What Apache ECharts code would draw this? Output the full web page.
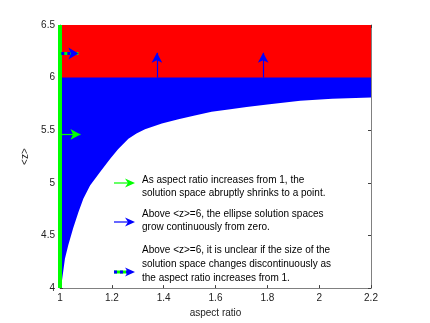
<!DOCTYPE html>
<html>
<head>
<meta charset="utf-8">
<script src="https://cdn.jsdelivr.net/npm/echarts@6/dist/echarts.min.js"></script>
<style>
  html, body { margin: 0; padding: 0; background: #fff; }
  #chart { width: 430px; height: 323px; }
</style>
</head>
<body>
<div id="chart"></div>
<script>
// boundary of the ellipse solution region (white below, blue above)
const aspectRatio = [1.0, 1.007, 1.019, 1.032, 1.051, 1.071, 1.09, 1.116, 1.154, 1.193, 1.224, 1.264, 1.295, 1.328, 1.393, 1.457, 1.52, 1.585, 1.65, 1.72, 1.8, 1.927, 2.05, 2.2];
const zBoundary = [4.0, 4.06, 4.28, 4.41, 4.57, 4.72, 4.85, 4.975, 5.1, 5.226, 5.32, 5.42, 5.47, 5.51, 5.563, 5.604, 5.64, 5.676, 5.698, 5.72, 5.745, 5.78, 5.8, 5.81];
const zThreshold = 6;
const xRange = [1, 2.2];
const zRange = [4, 6.5];
const xTickLabels = ["1", "1.2", "1.4", "1.6", "1.8", "2", "2.2"];
const zTickLabels = ["4", "4.5", "5", "5.5", "6", "6.5"];
// arrows in data space: [x1, z1, x2, z2]
const greenArrow = [1.0, 5.46, 1.079, 5.46];
const dashedArrow = [1.005, 6.23, 1.071, 6.23];
const upArrows = [[1.374, 6.0, 1.374, 6.236], [1.784, 6.0, 1.784, 6.236]];
const legendTexts = [
  "As aspect ratio increases from 1, the\nsolution space abruptly shrinks to a point.",
  "Above <z>=6, the ellipse solution spaces\ngrow continuously from zero.",
  "Above <z>=6, it is unclear if the size of the\nsolution space changes discontinuously as\nthe aspect ratio increases from 1."
];

const FONT = '"Liberation Sans", Arial, sans-serif';
const chart = echarts.init(document.getElementById("chart"));

function seg(a) {
  return [{ coord: [a[0], a[1]] }, { coord: [a[2], a[3]] }];
}

function legendArrow(x1, x2, y, color, dashed) {
  const items = [];
  if (dashed) {
    items.push({ type: "line", shape: { x1: x1, y1: y, x2: x2 - 6, y2: y }, style: { stroke: "#00ff00", lineWidth: 3 } });
    items.push({ type: "line", shape: { x1: x1, y1: y, x2: x2 - 6, y2: y }, style: { stroke: "#0000ff", lineWidth: 3, lineDash: [3, 3] } });
  } else {
    items.push({ type: "line", shape: { x1: x1, y1: y, x2: x2 - 4, y2: y }, style: { stroke: color, lineWidth: 1.2 } });
  }
  items.push({
    type: "polygon",
    shape: { points: [[x2, y], [x2 - 10, y - 4.5], [x2 - 7, y], [x2 - 10, y + 4.5]] },
    style: { fill: dashed ? "#0000ff" : color }
  });
  return items;
}

const legendGraphics = [].concat(
  legendArrow(114, 135, 183, "#00ff00", false),
  legendArrow(114, 135, 222, "#0000ff", false),
  legendArrow(114, 135, 272, "#0000ff", true),
  [
    { type: "text", style: { x: 142, y: 173, text: legendTexts[0], font: "10px " + FONT, lineHeight: 13.5, fill: "#000", verticalAlign: "top" } },
    { type: "text", style: { x: 142, y: 207, text: legendTexts[1], font: "10px " + FONT, lineHeight: 13.5, fill: "#000", verticalAlign: "top" } },
    { type: "text", style: { x: 142, y: 243.5, text: legendTexts[2], font: "10px " + FONT, lineHeight: 13.8, fill: "#000", verticalAlign: "top" } }
  ]
);

const axisBase = {
  type: "value",
  axisLine: { show: true, lineStyle: { color: "#808080", width: 1 } },
  axisTick: { show: true, inside: true, length: 3, lineStyle: { color: "#404040" } },
  splitLine: { show: false }
};

const option = {
  animation: false,
  grid: { left: 60, right: 59, top: 25, bottom: 34 },
  xAxis: [
    Object.assign({}, axisBase, {
      min: xRange[0], max: xRange[1], interval: 0.2,
      name: "aspect ratio", nameLocation: "middle", nameGap: 16,
      nameTextStyle: { fontFamily: FONT, fontSize: 10, color: "#222" },
      axisLabel: {
        margin: 5, fontFamily: FONT, fontSize: 10, color: "#222",
        formatter: function (v) { return xTickLabels[Math.round((v - xRange[0]) / 0.2)]; }
      }
    }),
    Object.assign({}, axisBase, {
      position: "top", min: xRange[0], max: xRange[1], interval: 0.2,
      axisLabel: { show: false }
    })
  ],
  yAxis: [
    Object.assign({}, axisBase, {
      min: zRange[0], max: zRange[1], interval: 0.5,
      name: "<z>", nameLocation: "middle", nameGap: 21, nameRotate: 90,
      nameTextStyle: { fontFamily: FONT, fontSize: 10, color: "#222" },
      axisLabel: {
        margin: 5, fontFamily: FONT, fontSize: 10, color: "#222",
        formatter: function (v) { return zTickLabels[Math.round((v - zRange[0]) / 0.5)]; }
      }
    }),
    Object.assign({}, axisBase, {
      position: "right", min: zRange[0], max: zRange[1], interval: 0.5,
      axisLabel: { show: false }
    })
  ],
  graphic: legendGraphics,
  series: [
    {
      name: "solution region", type: "line", silent: true, showSymbol: false,
      data: aspectRatio.map(function (x, i) { return [x, zBoundary[i]]; }),
      lineStyle: { width: 0 },
      areaStyle: { color: "#0000ff", opacity: 1, origin: "end" },
      z: 1
    },
    {
      name: "above threshold", type: "line", silent: true, showSymbol: false,
      data: [[xRange[0], zThreshold], [xRange[1], zThreshold]],
      lineStyle: { width: 0 },
      areaStyle: { color: "#ff0000", opacity: 1, origin: "end" },
      z: 2
    },
    {
      name: "aspect ratio 1", type: "line", silent: true, showSymbol: false, clip: false,
      data: [[xRange[0], zRange[0]], [xRange[0], zRange[1]]],
      lineStyle: { color: "#00ff00", width: 4 },
      z: 3
    },
    {
      name: "arrows", type: "line", silent: true, data: [], z: 4,
      markLine: {
        silent: true, animation: false,
        symbol: ["none", "arrow"], symbolSize: [8, 10],
        label: { show: false },
        emphasis: { disabled: true },
        data: [seg(greenArrow)].concat(upArrows.map(seg)).map(function (d, i) {
          const color = i === 0 ? "#00ff00" : "#0000ff";
          d[0].lineStyle = { color: color, width: 1.2, type: "solid" };
          d[0].itemStyle = { color: color };
          return d;
        })
      }
    },
    {
      name: "dashed base", type: "line", silent: true, data: [], z: 5,
      markLine: {
        silent: true, animation: false,
        symbol: ["none", "none"],
        label: { show: false },
        emphasis: { disabled: true },
        lineStyle: { color: "#00ff00", width: 3, type: "solid" },
        data: [seg(dashedArrow)]
      }
    },
    {
      name: "dashed top", type: "line", silent: true, data: [], z: 6,
      markLine: {
        silent: true, animation: false,
        symbol: ["none", "arrow"], symbolSize: [9, 10],
        label: { show: false },
        emphasis: { disabled: true },
        itemStyle: { color: "#0000ff" },
        lineStyle: { color: "#0000ff", width: 3, type: [3, 3] },
        data: [seg(dashedArrow)]
      }
    }
  ]
};

chart.setOption(option);
</script>
</body>
</html>
